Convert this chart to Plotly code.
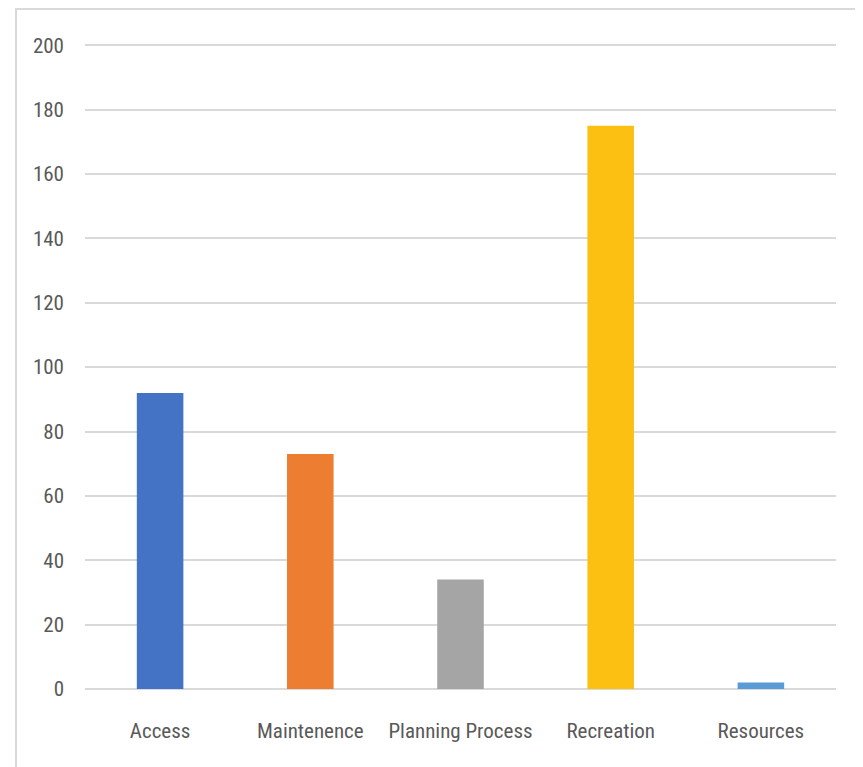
import plotly.graph_objects as go

categories = ["Access", "Maintenence", "Planning Process", "Recreation", "Resources"]
values = [92, 73, 34, 175, 2]
colors = ["#4472C4", "#ED7D31", "#A5A5A5", "#FCC012", "#5B9BD5"]
y_ticks = [0, 20, 40, 60, 80, 100, 120, 140, 160, 180, 200]

W, H = 855, 759
L, R, T, B = 77, 27, 36, 78
pw = W - L - R
ph = H - T - B

fig = go.Figure(go.Bar(x=categories, y=values, marker=dict(color=colors, line=dict(width=0))))

font = dict(family="Roboto Condensed, serif", size=21, color="#595959")

fig.update_layout(
    width=W, height=H,
    margin=dict(l=L, r=R, t=T, b=B),
    paper_bgcolor="white", plot_bgcolor="white",
    bargap=0.69,
    showlegend=False,
    font=font,
    xaxis=dict(showgrid=False, showline=False, ticks="", tickfont=font, ticklabelstandoff=27),
    yaxis=dict(range=[0, 200.4], tickvals=y_ticks, showgrid=True, gridcolor="#D9D9D9", gridwidth=1.5,
               zeroline=True, zerolinecolor="#D9D9D9", zerolinewidth=2, showline=False, ticks="",
               tickfont=font, ticklabelstandoff=20),
    shapes=[dict(type="rect", xref="paper", yref="paper",
                 x0=(8 - L) / pw, x1=(854 - L) / pw,
                 y0=-0.3, y1=(H - B - 1) / ph,
                 line=dict(color="#D9D9D9", width=2), fillcolor="rgba(0,0,0,0)", layer="below")],
)

fig.write_html("out.html")
